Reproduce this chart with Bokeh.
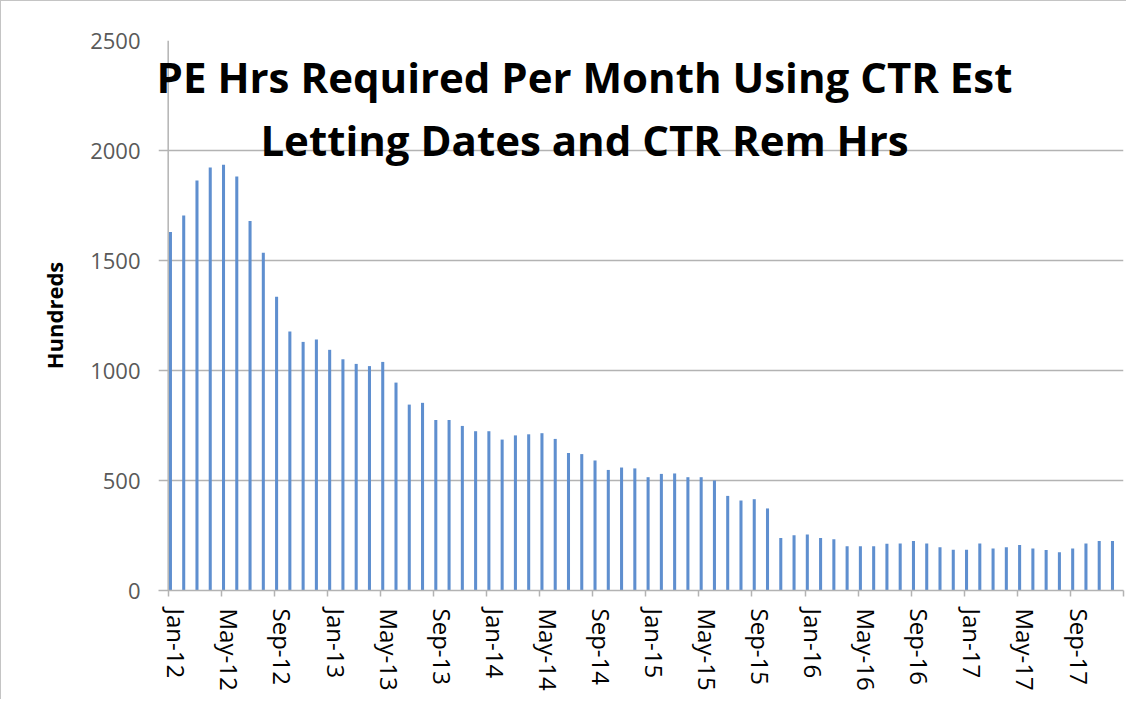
from bokeh.plotting import figure
from bokeh.models import Range1d, FixedTicker, LinearAxis, Label, Span
from bokeh.embed import file_html
from bokeh.resources import INLINE

# ---- data ----
month_names = ["Jan", "Feb", "Mar", "Apr", "May", "Jun",
               "Jul", "Aug", "Sep", "Oct", "Nov", "Dec"]
months = [f"{m}-{y}" for y in range(12, 18) for m in month_names]
values = [1630, 1705, 1864, 1923, 1935, 1882, 1679, 1535, 1335, 1177,
          1130, 1141, 1094, 1051, 1030, 1020, 1039, 945, 845, 853,
          775, 775, 748, 724, 724, 686, 705, 710, 715, 689,
          625, 620, 591, 548, 559, 555, 515, 530, 532, 515,
          515, 500, 430, 409, 415, 373, 239, 251, 255, 239,
          233, 201, 201, 201, 212, 214, 225, 214, 197, 185,
          185, 214, 191, 197, 207, 191, 184, 174, 191, 214, 225, 225]
tick_labels = ["Jan-12", "May-12", "Sep-12", "Jan-13", "May-13", "Sep-13",
               "Jan-14", "May-14", "Sep-14", "Jan-15", "May-15", "Sep-15",
               "Jan-16", "May-16", "Sep-16", "Jan-17", "May-17", "Sep-17"]
y_ticks = [0, 500, 1000, 1500, 2000, 2500]
title_lines = ["PE Hrs Required Per Month Using CTR Est",
               "Letting Dates and CTR Rem Hrs"]
y_label = "Hundreds"

FONT = "Open Sans"
GRID = "#b3b3b3"
BAR = "#5f8fcf"

n = len(months)
step = 4
x0 = -0.73   # frame starts a tick-length left of the value axis line

p = figure(width=1126, height=699, output_backend="svg", toolbar_location=None,
           x_range=Range1d(x0, n), y_range=Range1d(0, 2500),
           min_border_left=157, min_border_right=4, min_border_top=39,
           min_border_bottom=110)
p.styles = {"border-left": "1px solid #c4c4c4", "border-top": "1px solid #c4c4c4"}
p.outline_line_color = None
p.background_fill_color = "white"
p.border_fill_color = "white"

# bars
p.vbar(x=[i + 0.17 for i in range(n)], top=values, width=0.23,
       fill_color=BAR, line_color=None)

# grid (the part left of the value axis line doubles as Excel-style tick marks)
p.xgrid.visible = False
p.ygrid.ticker = FixedTicker(ticks=y_ticks)
p.ygrid.grid_line_color = GRID
p.ygrid.grid_line_width = 1.5

# value axis line at x = 0
p.add_layout(Span(location=0, dimension="height", line_color=GRID,
                  line_width=1.5))

# y axis: labels only
ya = p.yaxis[0]
ya.ticker = FixedTicker(ticks=y_ticks)
ya.axis_line_color = None
ya.major_tick_line_color = None
ya.major_tick_out = 0
ya.major_tick_in = 0
ya.minor_tick_line_color = None
ya.major_label_text_font = FONT
ya.major_label_text_font_size = "22px"
ya.major_label_text_color = "#595959"
ya.major_label_standoff = 18
ya.axis_label = y_label
ya.axis_label_text_font = FONT
ya.axis_label_text_font_style = "bold"
ya.axis_label_text_font_size = "22px"
ya.axis_label_text_color = "black"
ya.axis_label_standoff = 18

# x axis: line and tick marks only
xa = p.xaxis[0]
xa.ticker = FixedTicker(ticks=list(range(0, n + 1, step)))
xa.axis_line_color = GRID
xa.axis_line_width = 1.5
xa.major_tick_line_color = GRID
xa.major_tick_line_width = 1.5
xa.major_tick_out = 6
xa.major_tick_in = 0
xa.minor_tick_line_color = None
xa.major_label_overrides = {t: "" for t in range(0, n + 1, step)}
xa.major_label_standoff = 0
xa.major_label_text_font_size = "1px"

# x axis: labels (shifted slightly right of the tick marks)
shift = 0.65
p.extra_x_ranges = {"lab": Range1d(x0 - shift, n - shift)}
xl = LinearAxis(x_range_name="lab",
                ticker=FixedTicker(ticks=list(range(0, n - 3, step))))
xl.major_label_overrides = {i * step: lab for i, lab in enumerate(tick_labels)}
xl.axis_line_color = None
xl.major_tick_line_color = None
xl.minor_tick_line_color = None
xl.major_tick_out = 0
xl.major_tick_in = 0
xl.major_label_orientation = "vertical"
xl.major_label_text_font = FONT
xl.major_label_text_font_size = "24px"
xl.major_label_text_color = "black"
xl.major_label_standoff = 12
p.add_layout(xl, "below")

# title drawn over the plot area
for txt, yy in zip(title_lines, [2338, 2051]):
    p.add_layout(Label(x=31.38, y=yy, text=txt, text_align="center",
                       text_baseline="alphabetic", text_font=FONT,
                       text_font_style="bold", text_font_size="42px",
                       text_color="black", level="overlay"))

open("out.html", "w").write(file_html(p, INLINE))
